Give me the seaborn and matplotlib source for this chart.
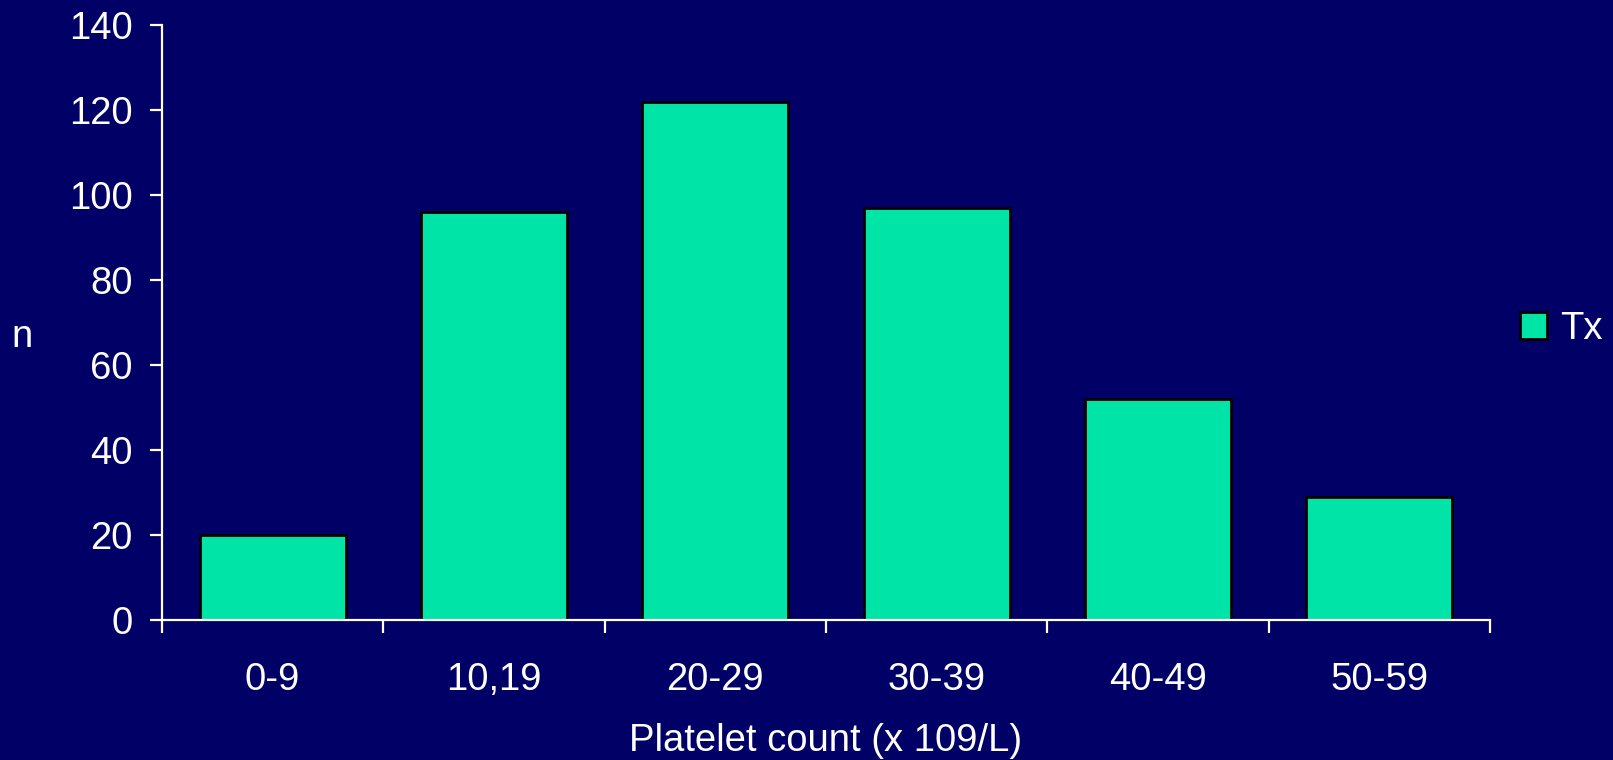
import matplotlib
matplotlib.use("Agg")
import matplotlib.pyplot as plt
import seaborn as sns
import pandas as pd

categories = ["0-9", "10,19", "20-29", "30-39", "40-49", "50-59"]
counts = [20, 96, 122, 97, 52, 29]
series_name = "Tx"
y_ticks = [0, 20, 40, 60, 80, 100, 120, 140]

BG = "#000066"
BAR = "#00E4A8"
FG = "white"
FS = 27.5

sns.set_theme(style="ticks")
plt.rcParams["font.family"] = ["Liberation Sans", "DejaVu Sans"]

df = pd.DataFrame({"range": categories, "n": counts})

fig = plt.figure(figsize=(16.13, 7.6), dpi=100, facecolor=BG)
ax = fig.add_axes([0.1004, 0.1842, 0.8233, 0.7825])
ax.set_facecolor(BG)

sns.barplot(data=df, x="range", y="n", color=BAR, width=0.66,
            edgecolor="black", linewidth=2, saturation=1, label=series_name, ax=ax)

ax.set_xlim(-0.5, len(categories) - 0.5)
ax.set_ylim(0, 140)
ax.set_yticks(y_ticks)

for side in ["top", "right"]:
    ax.spines[side].set_visible(False)
for side in ["left", "bottom"]:
    ax.spines[side].set_color(FG)
    ax.spines[side].set_linewidth(1.6)

ax.tick_params(axis="y", colors=FG, labelcolor=FG, labelsize=FS, length=9, width=1.6, pad=12)
ax.tick_params(axis="x", which="major", length=0, labelcolor=FG, labelsize=FS, pad=30)
ax.set_xticks([i - 0.5 for i in range(len(categories) + 1)], minor=True)
ax.tick_params(axis="x", which="minor", length=9, width=1.6, color=FG)

ax.set_xlabel("Platelet count (x 109/L)", color=FG, fontsize=FS, labelpad=18)
ax.set_ylabel("n", color=FG, fontsize=FS, rotation=0, labelpad=0)
ax.yaxis.set_label_coords(-0.105, 0.445)

ax.legend(loc="center left", bbox_to_anchor=(0.997, 0.49), frameon=False,
          fontsize=FS, handlelength=0.7, handleheight=0.7, handletextpad=0.35,
          labelcolor=FG)

fig.savefig("out.png", dpi=100, facecolor=BG)
